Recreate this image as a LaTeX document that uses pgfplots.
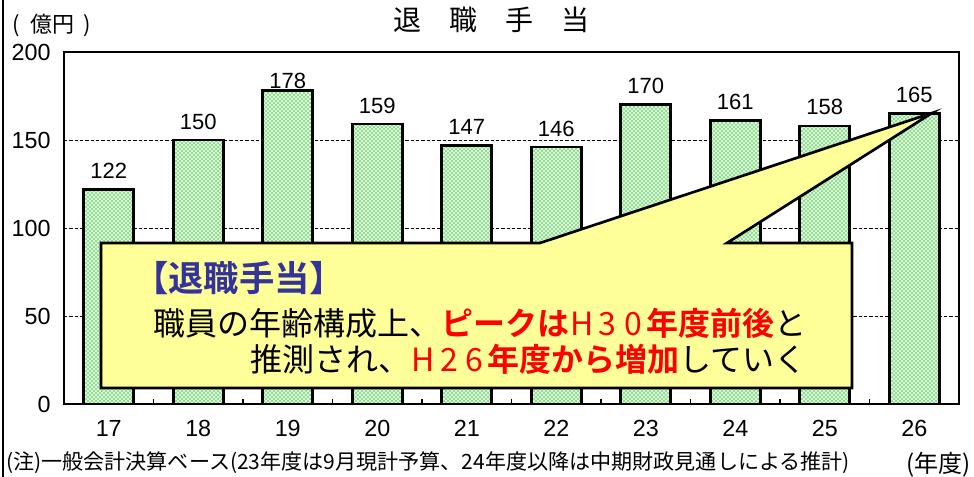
\documentclass[border=0pt]{standalone}
\usepackage{pgfplots}
\pgfplotsset{compat=1.18}
\usepackage{pgfplotstable}
\usetikzlibrary{patterns}
\usepackage{fontspec}
\setmainfont{Liberation Sans}
\newfontfamily\jp[BoldFont={Noto Sans CJK JP Bold}]{Noto Sans CJK JP}
\definecolor{barfill}{RGB}{204,255,204}
\definecolor{dotc}{RGB}{20,70,20}
\definecolor{callout}{RGB}{255,255,153}
\definecolor{navy}{RGB}{51,51,153}
\definecolor{jred}{RGB}{255,0,0}

\pgfplotstableread{
x y off
0 122 4.5
1 150 4.5
2 178 -2
3 159 4.5
4 147 4.5
5 146 4.5
6 170 4.5
7 161 4.5
8 158 4.5
9 165 4.5
}\retire

\begin{document}
\begin{tikzpicture}
\useasboundingbox (0,0) rectangle (730.5pt,357.75pt);
\begin{axis}[
  at={(48pt,54.75pt)}, anchor=south west,
  scale only axis, width=671.25pt, height=264pt,
  xmin=-0.5, xmax=9.5, ymin=0, ymax=200,
  axis line style={line width=2pt},
  xtick={0,1,2,3,4,5,6,7,8,9},
  xticklabels={17,18,19,20,21,22,23,24,25,26},
  major x tick style={draw=none},
  xtick pos=left,
  extra x ticks={0.5,1.5,2.5,3.5,4.5,5.5,6.5,7.5,8.5},
  extra x tick labels={},
  extra x tick style={major tick length=4pt, tick align=inside, grid=none,
     major x tick style={draw=black, line width=0.8pt}},
  ytick={0,50,100,150,200},
  major y tick style={draw=none},
  ymajorgrids,
  grid style={black, line width=0.6pt, dash pattern=on 2.5pt off 1.5pt},
  /pgf/number format/assume math mode=true,
  tick label style={font=\fontsize{17.5}{20}\selectfont},
  yticklabel style={xshift=-6.5pt},
  xticklabel style={yshift=-9pt},
  clip=false,
]
\addplot[ybar, bar width=37.5pt, bar shift=0pt, fill=barfill, draw=none,
  nodes near coords,
  visualization depends on={\thisrow{off} \as \off},
  every node near coord/.append style={font=\fontsize{16.5}{19}\selectfont, black, yshift=\off pt},
  ] table[x=x,y=y] {\retire};
\addplot[ybar, bar width=37.5pt, bar shift=0pt, draw=black, line width=2pt,
  pattern=crosshatch dots, pattern color=dotc] table[x=x,y=y] {\retire};
\end{axis}
\begin{scope}[x=0.75pt, y=-0.75pt, shift={(0pt,357.75pt)}]
  % left frame line
  \draw[line width=1.5pt] (3,0) -- (3,477);
  % callout
  \draw[line width=2pt, fill=callout, line join=miter]
    (101,243) -- (540,243) -- (932,113) -- (727,243) -- (852,243)
    -- (852,388) -- (101,388) -- cycle;
  \node[anchor=west, inner sep=0pt, font=\fontsize{26.5}{30}\selectfont\jp\bfseries, text=navy]
    at (133,278) {【退職手当】};
  \node[anchor=west, inner sep=0pt, font=\fontsize{24}{28}\selectfont\jp]
    at (153,323) {職員の年齢構成上、\textcolor{jred}{\bfseries ピークは}\textcolor{jred}{\makebox[0.8em]{H}\makebox[0.8em]{3}\makebox[0.8em]{0}}\textcolor{jred}{\bfseries 年度前後}と};
  \node[anchor=west, inner sep=0pt, font=\fontsize{24}{28}\selectfont\jp]
    at (250,359) {推測され、\textcolor{jred}{\makebox[0.8em]{H}\makebox[0.8em]{2}\makebox[0.8em]{6}}\textcolor{jred}{\bfseries 年度から増加}していく};
  % titles
  \node[font=\fontsize{21}{24}\selectfont\jp] at (491,20) {退　職　手　当};
  \node[anchor=west, inner sep=0pt, font=\fontsize{16.5}{19}\selectfont\jp] at (12,25) {(\hspace{0.5em}億円\hspace{0.4em})};
  \node[anchor=west, inner sep=0pt, font=\fontsize{15.8}{18}\selectfont\jp] at (6,463) {(注)一般会計決算ベース(23年度は9月現計予算、24年度以降は中期財政見通しによる推計)};
  \node[anchor=west, inner sep=0pt, font=\fontsize{18}{21}\selectfont\jp] at (906,465) {(年度)};
\end{scope}
\end{tikzpicture}
\end{document}
